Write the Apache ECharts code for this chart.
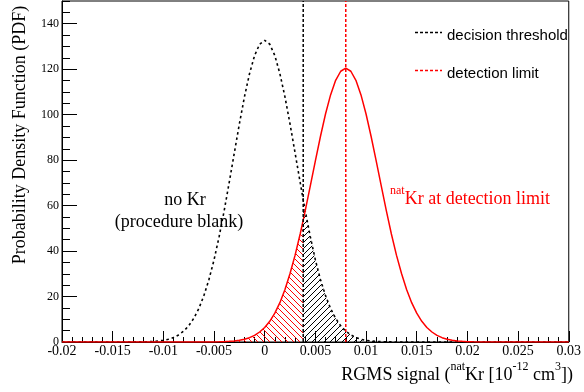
<!DOCTYPE html>
<html><head><meta charset="utf-8">
<script src="https://cdn.jsdelivr.net/npm/echarts@6/dist/echarts.min.js"></script>
<style>html,body{margin:0;padding:0;background:#fff}#c{width:584px;height:392px}</style>
</head><body><div id="c"></div>
<script>
// RGMS signal (natKr, 10^-12 cm3)
const signal = [
  -0.02, -0.018, -0.016, -0.014, -0.013, -0.012, -0.011, -0.0105, -0.01, -0.0095,
  -0.009, -0.0085, -0.008, -0.0075, -0.007, -0.0065, -0.006, -0.0055, -0.005, -0.0045,
  -0.004, -0.0035, -0.003, -0.0025, -0.002, -0.0015, -0.001, -0.0005, 0, 0.0005,
  0.001, 0.0015, 0.002, 0.0025, 0.003, 0.0035, 0.0038, 0.004, 0.0045, 0.005,
  0.0055, 0.006, 0.0065, 0.007, 0.0075, 0.008, 0.0085, 0.009, 0.0095, 0.01,
  0.0105, 0.011, 0.0115, 0.012, 0.0125, 0.013, 0.0135, 0.014, 0.0145, 0.015,
  0.0155, 0.016, 0.0165, 0.017, 0.0175, 0.018, 0.0185, 0.019, 0.0195, 0.02,
  0.0205, 0.021, 0.0215, 0.022, 0.024, 0.026, 0.028, 0.03
];
// PDF of procedure blank (no Kr)
const blankPdf = [
  0, 0, 0, 0, 0.02, 0.07, 0.24, 0.43, 0.73, 1.21,
  1.96, 3.1, 4.75, 7.1, 10.4, 14.7, 20.4, 27.5, 36.1, 46.3,
  57.7, 70.2, 83.1, 95.9, 107.8, 118.0, 126.0, 131.0, 132.7, 131.0,
  126.0, 118.0, 107.8, 95.9, 83.1, 70.2, 62.6, 57.7, 46.3, 36.1,
  27.5, 20.4, 14.7, 10.4, 7.1, 4.75, 3.1, 1.96, 1.21, 0.73,
  0.43, 0.24, 0.14, 0.07, 0.04, 0.02, 0.01, 0, 0, 0,
  0, 0, 0, 0, 0, 0, 0, 0, 0, 0,
  0, 0, 0, 0, 0, 0, 0, 0
];
// PDF of natKr at detection limit
const krPdf = [
  0, 0, 0, 0, 0, 0, 0, 0, 0, 0,
  0, 0, 0, 0, 0, 0.01, 0.015, 0.03, 0.05, 0.09,
  0.16, 0.28, 0.47, 0.76, 1.22, 1.9, 2.9, 4.4, 6.4, 9.1,
  12.7, 17.3, 23.1, 30.1, 38.2, 47.5, 53.6, 57.8, 68.7, 79.7,
  90.4, 100.3, 108.7, 115.1, 119.1, 120.5, 119.1, 115.1, 108.7, 100.3,
  90.4, 79.7, 68.7, 57.8, 47.5, 38.2, 30.1, 23.1, 17.3, 12.7,
  9.1, 6.4, 4.4, 2.9, 1.9, 1.22, 0.76, 0.47, 0.28, 0.16,
  0.09, 0.05, 0.03, 0.015, 0, 0, 0, 0
];
const decisionThreshold = 0.0038;
const detectionLimit = 0.008;
const xMin = -0.02, xMax = 0.03, xStep = 0.005, xMinorStep = 0.001;
const yMin = 0, yMax = 150, yStep = 20, yMinorStep = 5;

function hatch(color, up) {
  const s = 6;
  const c = document.createElement('canvas');
  c.width = s; c.height = s;
  const g = c.getContext('2d');
  g.strokeStyle = color; g.lineWidth = 1;
  g.beginPath();
  for (let o = -s; o <= s; o += s) {
    if (up) { g.moveTo(o, s); g.lineTo(o + s, 0); }
    else { g.moveTo(o, 0); g.lineTo(o + s, s); }
  }
  g.stroke();
  return c;
}

const blankData = signal.map((x, i) => [x, blankPdf[i]]);
const krData = signal.map((x, i) => [x, krPdf[i]]);
const redHatchData = krData.filter(p => p[0] <= decisionThreshold + 1e-12);
const blackHatchData = blankData.filter(p => p[0] >= decisionThreshold - 1e-12);

const serif = '"Liberation Serif", "Times New Roman", serif';
const sans = '"Liberation Sans", Arial, sans-serif';

// text with superscripts laid out piece by piece
const measureCtx = document.createElement('canvas').getContext('2d');
function supText(parts, anchorX, align, baseline, color) {
  const mainFs = 18, supFs = 12, rise = 10;
  const items = parts.map(([t, sup]) => {
    const fs = sup ? supFs : mainFs;
    measureCtx.font = fs + 'px ' + serif;
    return {t, sup, fs, w: measureCtx.measureText(t).width};
  });
  const total = items.reduce((a, b) => a + b.w, 0);
  let x = align === 'right' ? anchorX - total : anchorX;
  const els = [];
  items.forEach(it => {
    const bl = it.sup ? baseline - rise : baseline;
    els.push({type: 'text', x: x, y: bl - 0.3375 * it.fs,
      style: {text: it.t, font: it.fs + 'px ' + serif, fill: color, align: 'left', verticalAlign: 'middle'}});
    x += it.w;
  });
  return els;
}

const chart = echarts.init(document.getElementById('c'), null, {renderer: 'canvas'});
chart.setOption({
  animation: false,
  backgroundColor: '#fff',
  grid: {left: 62, right: 10, top: 1, bottom: 50, show: true, borderColor: '#000', borderWidth: 1, backgroundColor: 'transparent'},
  xAxis: [{
    type: 'value', min: xMin, max: xMax, interval: xStep,
    axisLine: {show: true, onZero: false, lineStyle: {color: '#000', width: 1}},
    axisTick: {show: true, inside: true, length: 11, lineStyle: {color: '#000', width: 1}},
    minorTick: {show: true, splitNumber: Math.round(xStep / xMinorStep), length: 5, lineStyle: {color: '#000', width: 1}},
    splitLine: {show: false},
    axisLabel: {fontFamily: serif, fontSize: 14, color: '#000', margin: 2}
  }],
  yAxis: [{
    type: 'value', min: yMin, max: yMax, interval: yStep,
    axisLine: {show: true, onZero: false, lineStyle: {color: '#000', width: 1}},
    axisTick: {show: true, inside: true, length: 15, lineStyle: {color: '#000', width: 1}},
    splitLine: {show: false},
    axisLabel: {fontFamily: serif, fontSize: 12, color: '#000', margin: 3, showMaxLabel: false}
  }, {
    type: 'value', min: yMin, max: yMax, interval: yMinorStep, position: 'left',
    axisLine: {show: false, onZero: false},
    axisTick: {show: true, inside: true, length: 8, lineStyle: {color: '#000', width: 1}},
    splitLine: {show: false},
    axisLabel: {show: false}
  }],
  series: [
    {type: 'line', name: 'kr-hatch', data: redHatchData, symbol: 'none', silent: true, z: 1,
     lineStyle: {width: 0, opacity: 0},
     areaStyle: {color: {image: hatch('#ff0000', false), repeat: 'repeat'}, opacity: 1}},
    {type: 'line', name: 'blank-hatch', data: blackHatchData, symbol: 'none', silent: true, z: 1,
     lineStyle: {width: 0, opacity: 0},
     areaStyle: {color: {image: hatch('#000000', true), repeat: 'repeat'}, opacity: 1}},
    {type: 'line', name: 'no Kr', data: blankData, symbol: 'none', z: 3,
     lineStyle: {color: '#000', width: 1.6, type: [2.5, 3]}},
    {type: 'line', name: 'natKr', data: krData, symbol: 'none', z: 3,
     lineStyle: {color: '#ff0000', width: 1.5}},
    {type: 'line', name: 'decision threshold', data: [[decisionThreshold, yMin], [decisionThreshold, yMax]], symbol: 'none', z: 4,
     lineStyle: {color: '#000', width: 1.5, type: [3, 2]}},
    {type: 'line', name: 'detection limit', data: [[detectionLimit, yMin], [detectionLimit, yMax]], symbol: 'none', z: 4,
     lineStyle: {color: '#ff0000', width: 1.5, type: [3, 2]}}
  ],
  graphic: [
    {type: 'text', x: 20, y: 135, rotation: Math.PI / 2,
     style: {text: 'Probability Density Function (PDF)', font: '18px ' + serif, fill: '#000', align: 'center', verticalAlign: 'middle'}},
    {type: 'text', x: 185, y: 200,
     style: {text: 'no Kr', font: '18px ' + serif, fill: '#000', align: 'center', verticalAlign: 'middle'}},
    {type: 'text', x: 179, y: 222,
     style: {text: '(procedure blank)', font: '18px ' + serif, fill: '#000', align: 'center', verticalAlign: 'middle'}},
    {type: 'line', shape: {x1: 415, y1: 32.5, x2: 442, y2: 32.5}, style: {stroke: '#000', lineWidth: 1.5, lineDash: [3, 2]}},
    {type: 'text', x: 447, y: 36.3, style: {text: 'decision threshold', font: '15px ' + sans, fill: '#000', align: 'left', verticalAlign: 'middle'}},
    {type: 'line', shape: {x1: 415, y1: 70.5, x2: 442, y2: 70.5}, style: {stroke: '#ff0000', lineWidth: 1.5, lineDash: [3, 2]}},
    {type: 'text', x: 447, y: 74.1, style: {text: 'detection limit', font: '15px ' + sans, fill: '#000', align: 'left', verticalAlign: 'middle'}}
  ].concat(
    supText([['RGMS signal (', false], ['nat', true], ['Kr [10', false], ['-12', true], [' cm', false], ['3', true], ['])', false]], 573, 'right', 381, '#000'),
    supText([['nat', true], ['Kr at detection limit', false]], 390, 'left', 205, '#ff0000')
  )
});
</script>
</body></html>
